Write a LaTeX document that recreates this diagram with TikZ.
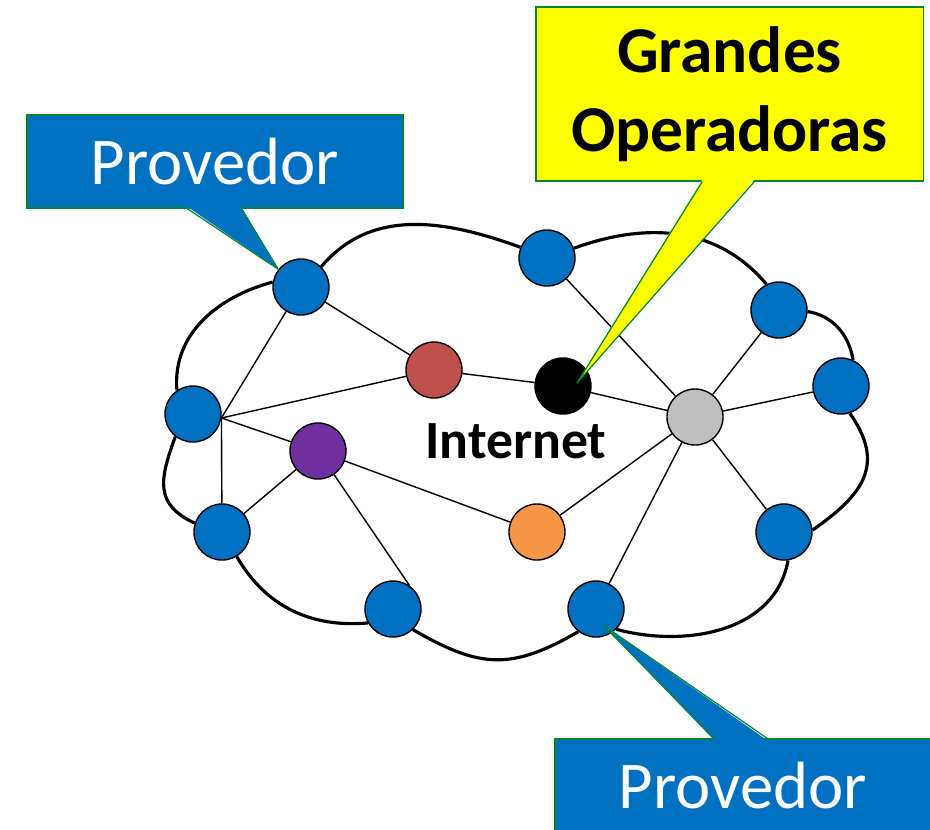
\documentclass[tikz,border=0pt]{standalone}
\usepackage{fontspec}
\setmainfont{Carlito}
\usetikzlibrary{calc}
\definecolor{netblue}{HTML}{0070C0}
\definecolor{netred}{HTML}{C0504D}
\definecolor{netpurple}{HTML}{7030A0}
\definecolor{netorange}{HTML}{F79646}
\definecolor{netgray}{HTML}{BFBFBF}
\definecolor{netyellow}{HTML}{FFFF00}
\definecolor{netgreen}{HTML}{00862E}
\tikzset{
    netnode/.style={circle, draw=black, line width=0.4pt, inner sep=0pt, minimum size=0.56cm},
    netlink/.style={line width=0.4pt},
    netcloud/.style={line width=0.9pt},
    netbox/.style={draw=netgreen, line width=0.35pt, align=center, inner sep=0pt},
    netpointer/.style={draw=netgreen, line width=0.35pt}
}

\begin{document}
\begin{tikzpicture}[x=0.01cm, y=-0.01cm]
    \clip (0,0) rectangle (930,829);
    % provedores na borda da nuvem
    \node[netnode, fill=netblue] (pa) at (301,287) {};
    \node[netnode, fill=netblue] (pb) at (547,258) {};
    \node[netnode, fill=netblue] (pc) at (779,310) {};
    \node[netnode, fill=netblue] (pd) at (841,386) {};
    \node[netnode, fill=netblue] (pe) at (784,532) {};
    \node[netnode, fill=netblue] (pf) at (596,609) {};
    \node[netnode, fill=netblue] (pg) at (393,609) {};
    \node[netnode, fill=netblue] (ph) at (222,532) {};
    \node[netnode, fill=netblue] (pi) at (193,414) {};
    % nucleo
    \node[netnode, fill=netred] (red) at (434,370) {};
    \node[netnode, fill=black] (core) at (563,386) {};
    \node[netnode, fill=netpurple] (purple) at (318,451) {};
    \node[netnode, fill=netorange] (orange) at (537,532) {};
    \node[netnode, fill=netgray] (hubgray) at (695,417) {};
    \node[anchor=base, font=\bfseries\fontsize{15.3}{18}\selectfont] (inet) at (516,458) {Internet};

    % nuvem
    \draw[netcloud] (pa.45) to[out=50,in=160] (pb.158);
    \draw[netcloud] (pb.20) to[out=20,in=130] (pc.116);
    \draw[netcloud] (pc.-3) to[out=-10,in=100] (pd.65);
    \draw[netcloud] (pd.-72) to[out=-55,in=35,looseness=1.3] (pe.4);
    \draw[netcloud] (pe.-82) to[out=-100,in=-15] (pf.-45);
    \draw[netcloud] (pf.-128) to[out=-150,in=-30,looseness=1.2] (pg.-46);
    \draw[netcloud] (pg.-151) to[out=185,in=-60] (ph.-59);
    \draw[netcloud] (ph.162) to[out=155,in=-110,looseness=1.3] (pi.-128);
    \draw[netcloud] (pi.124) to[out=95,in=-165] (pa.170);

    % ligacoes
    \coordinate (hubi) at (pi.-8);
    \draw[netlink] (hubi) -- (pa);
    \draw[netlink] (hubi) -- (red);
    \draw[netlink] (hubi) -- (purple);
    \draw[netlink] (hubi) -- (ph);
    \draw[netlink] (pa) -- (red);
    \draw[netlink] (red) -- (core);
    \draw[netlink] (core) -- (hubgray);
    \draw[netlink] (purple) -- (ph);
    \draw[netlink] (purple) -- (pg.55);
    \draw[netlink] (purple) -- (orange);
    \draw[netlink] (orange) -- (hubgray);
    \foreach \p in {pb,pc,pd,pe,pf}
        \draw[netlink] (hubgray) -- (\p);

    % chamadas
    \node[netbox, fill=netblue, text=white, minimum width=3.76cm, minimum height=0.93cm,
          font=\fontsize{19}{23}\selectfont] (provtop) at (215,161.5) {Provedor};
    \fill[netblue] ($(provtop.south west)+(161,-2)$) -- (pa.142) -- ($(provtop.south west)+(215,-2)$) -- cycle;
    \draw[netpointer] ($(provtop.south west)+(161,0)$) -- (pa.142) -- ($(provtop.south west)+(215,0)$);

    \node[netbox, fill=netyellow, minimum width=3.87cm, minimum height=1.74cm,
          font=\bfseries\fontsize{18.6}{22.5}\selectfont] (opbox) at (729.5,94) {Grandes\\Operadoras};
    \fill[netyellow] ($(opbox.south west)+(167,-2)$) -- ($(core)+(14,-3)$) -- ($(opbox.south west)+(219,-2)$) -- cycle;
    \draw[netpointer] ($(opbox.south west)+(167,0)$) -- ($(core)+(14,-3)$) -- ($(opbox.south west)+(219,0)$);

    \node[netbox, fill=netblue, text=white, minimum width=3.76cm, minimum height=0.93cm,
          font=\fontsize{19}{23}\selectfont] (provbot) at (743,785.5) {Provedor};
    \fill[netblue] ($(provbot.north west)+(160,2)$) -- ($(pf)+(7,16)$) -- ($(provbot.north west)+(213,2)$) -- cycle;
    \draw[netpointer] ($(provbot.north west)+(160,0)$) -- ($(pf)+(7,16)$) -- ($(provbot.north west)+(213,0)$);
\end{tikzpicture}
\end{document}
